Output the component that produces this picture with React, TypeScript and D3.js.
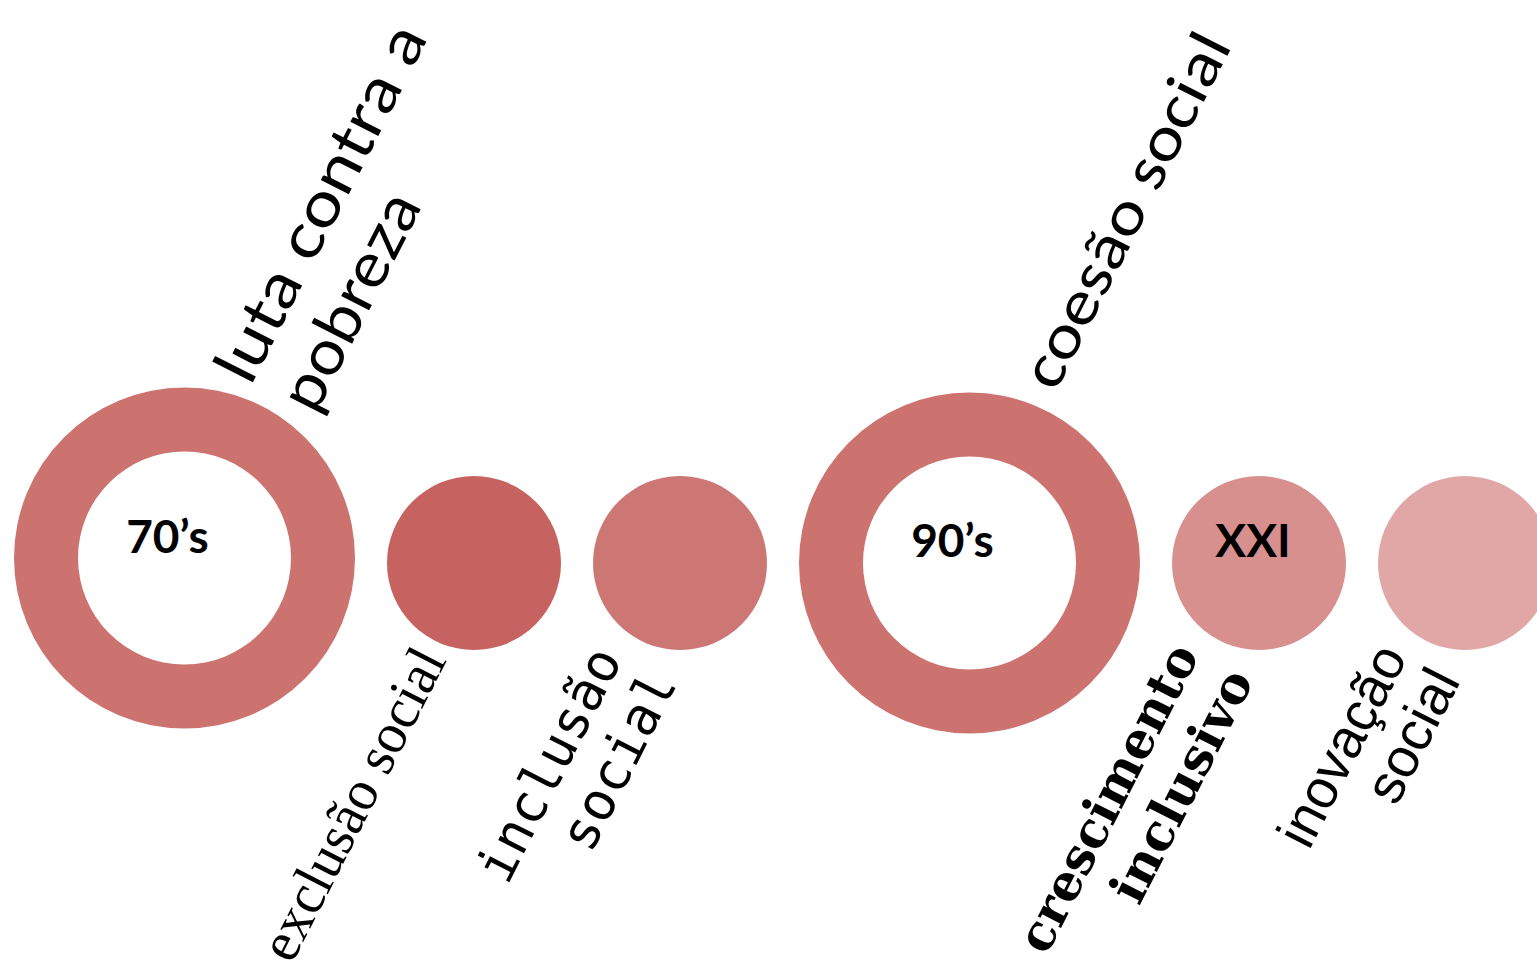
import React from "react";
import * as d3 from "d3";

// ---- data ----
const eras: string[] = ["70’s", "", "", "90’s", "XXI", ""];
const kinds: string[] = ["ring", "dot", "dot", "ring", "dot", "dot"];
const concepts: string[][] = [
  ["luta contra a", "pobreza"],
  ["exclusão social"],
  ["inclusão", "social"],
  ["coesão social"],
  ["crescimento", "inclusivo"],
  ["inovação", "social"],
];
const fills: string[] = ["#CC7370", "#C66260", "#CC7774", "#CC7370", "#D8908E", "#E0A7A6"];

// ---- layout / style ----
const W = 1537;
const H = 964;
const ANGLE = -63;
const sizeOf: Record<string, { outer: number; inner: number }> = {
  ring: { outer: 170.5, inner: 106.5 },
  dot: { outer: 87, inner: 0 },
};
const GAP = 32;
const START_X = 14;
const centerY = [558, 563, 563, 563, 563, 563];

type LabelStyle = {
  side: "top" | "bottom";
  dx: number;
  dy: number;
  font: string;
  size: number;
  weight: number;
  lengths: number[];
  gap: number;
  shift: number;
};
const labelStyles: LabelStyle[] = [
  { side: "top", dx: 66, dy: -171, font: '"Century Gothic", Lato, sans-serif', size: 62, weight: 400, lengths: [392, 236], gap: 71, shift: 4 },
  { side: "bottom", dx: -27, dy: 97, font: '"Times New Roman", "Liberation Serif", serif', size: 57, weight: 400, lengths: [342], gap: 0, shift: 0 },
  { side: "bottom", dx: -57, dy: 96, font: '"DejaVu Sans Mono", monospace', size: 53, weight: 400, lengths: [255, 192], gap: 60, shift: 3 },
  { side: "top", dx: 86, dy: -170, font: 'Calibri, "Open Sans", sans-serif', size: 62, weight: 400, lengths: [390], gap: 0, shift: 0 },
  { side: "bottom", dx: -59, dy: 92, font: '"Cooper Black", "DejaVu Serif", serif', size: 50, weight: 900, lengths: [338, 254], gap: 60, shift: 2 },
  { side: "bottom", dx: -57, dy: 94, font: 'Arial, "Liberation Sans", sans-serif', size: 55, weight: 400, lengths: [218, 142], gap: 58, shift: 3 },
];
const eraOffsets = [
  { dx: -17, dy: -5 },
  { dx: 0, dy: 0 },
  { dx: 0, dy: 0 },
  { dx: -17, dy: -6 },
  { dx: -6, dy: -6 },
  { dx: 0, dy: 0 },
];

export default function App() {
  // cumulative horizontal layout of the circles
  const radii = kinds.map((k) => sizeOf[k].outer);
  const centersX: number[] = [];
  let cursor = START_X;
  radii.forEach((r) => {
    centersX.push(cursor + r);
    cursor += 2 * r + GAP;
  });
  const x = d3.scaleOrdinal<number, number>().domain(d3.range(eras.length)).range(centersX);

  const rad = (ANGLE * Math.PI) / 180;
  const ux = Math.cos(rad);
  const uy = Math.sin(rad);
  const downX = -Math.sin(rad);
  const downY = Math.cos(rad);

  return (
    <svg
      width={W}
      height={H}
      viewBox={`0 0 ${W} ${H}`}
      style={{ position: "absolute", left: 0, top: 0, background: "#fff" }}
    >
      {kinds.map((k, i) => {
        const s = sizeOf[k];
        const cx = x(i);
        const cy = centerY[i];
        if (k === "ring") {
          const arc = d3.arc<any>().innerRadius(s.inner).outerRadius(s.outer).startAngle(0).endAngle(2 * Math.PI);
          return <path key={i} d={arc({}) as string} transform={`translate(${cx},${cy})`} fill={fills[i]} />;
        }
        return <circle key={i} cx={cx} cy={cy} r={s.outer} fill={fills[i]} />;
      })}
      {eras.map((t, i) =>
        t ? (
          <text
            key={"e" + i}
            x={x(i) + eraOffsets[i].dx}
            y={centerY[i] + eraOffsets[i].dy}
            textAnchor="middle"
            fontFamily='"Century Gothic", Lato, sans-serif'
            fontWeight={700}
            fontSize={46}
            fill="#000"
          >
            {t}
          </text>
        ) : null
      )}
      {concepts.map((lines, i) => {
        const st = labelStyles[i];
        const ax = x(i) + st.dx;
        const ay = centerY[i] + st.dy;
        return (
          <g key={"l" + i}>
            {lines.map((line, j) => {
              const px = ax + j * (st.gap * downX + st.shift * ux);
              const py = ay + j * (st.gap * downY + st.shift * uy);
              return (
                <text
                  key={j}
                  transform={`translate(${px},${py}) rotate(${ANGLE})`}
                  textAnchor={st.side === "top" ? "start" : "end"}
                  fontFamily={st.font}
                  fontSize={st.size}
                  fontWeight={st.weight}
                  textLength={st.lengths[j]}
                  lengthAdjust="spacingAndGlyphs"
                  fill="#000"
                >
                  {line}
                </text>
              );
            })}
          </g>
        );
      })}
    </svg>
  );
}
